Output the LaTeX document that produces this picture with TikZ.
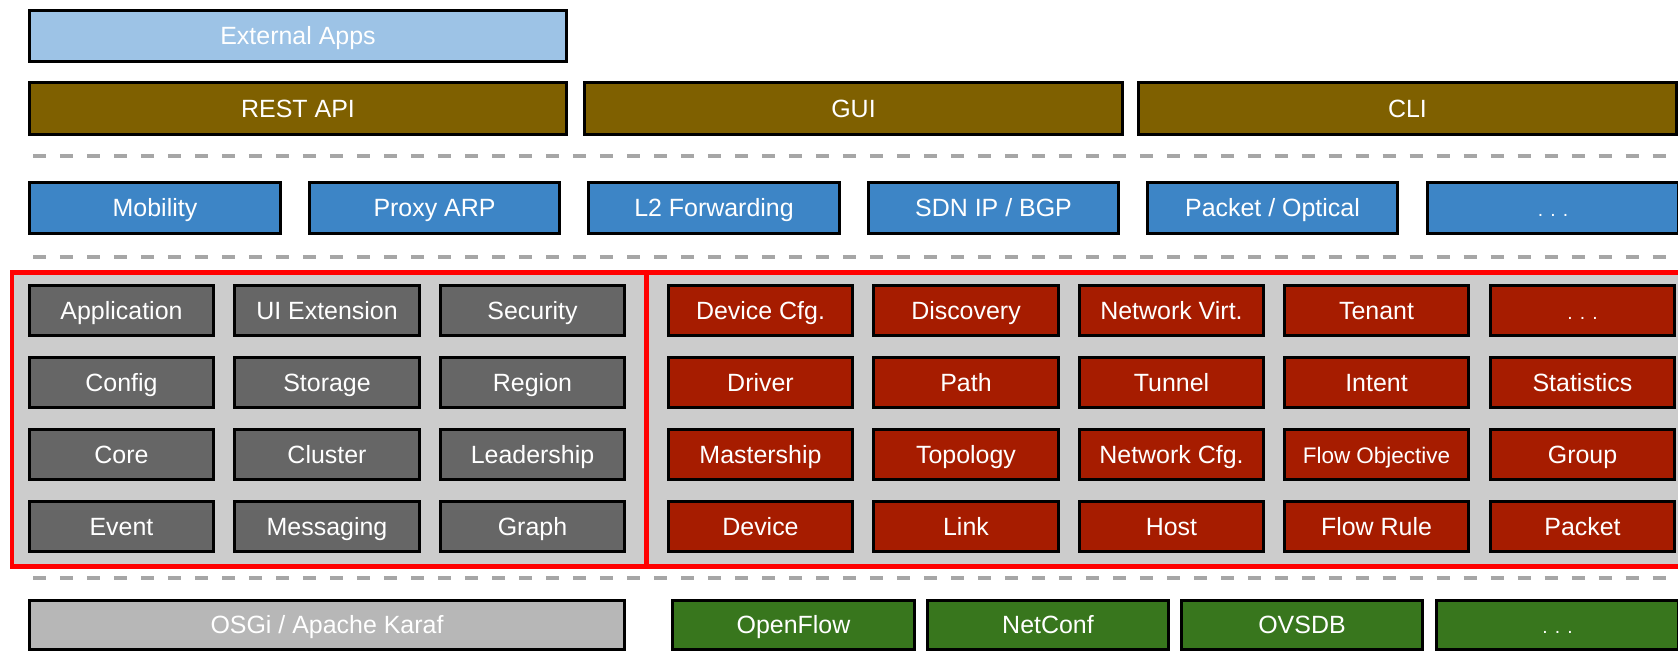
\documentclass[tikz,border=0pt]{standalone}
\usepackage{fontspec}
\setmainfont{Liberation Sans}
\definecolor{extblue}{HTML}{9DC3E6}
\definecolor{apibrown}{HTML}{7F6000}
\definecolor{appblue}{HTML}{3D85C6}
\definecolor{coregrey}{HTML}{666666}
\definecolor{corebg}{HTML}{CCCCCC}
\definecolor{svcred}{HTML}{A61C00}
\definecolor{protogreen}{HTML}{38761D}
\definecolor{osgigrey}{HTML}{B7B7B7}
\definecolor{sepgrey}{HTML}{A6A6A6}
\definecolor{framered}{HTML}{FF0000}

\begin{document}
\begin{tikzpicture}[x=0.02cm, y=-0.02cm,
    every node/.style={draw=black, line width=0.06cm, text=white, inner sep=0pt,
      font=\fontsize{14.2}{17}\selectfont, text height=10.2pt, text depth=0pt},
    extbox/.style={fill=extblue, minimum width=10.76cm, minimum height=1.02cm},
    apibox/.style={fill=apibrown, minimum width=10.76cm, minimum height=1.04cm},
    appbox/.style={fill=appblue, minimum width=5.02cm, minimum height=1.02cm},
    corebox/.style={fill=coregrey, minimum width=3.7cm, minimum height=1.0cm},
    svcbox/.style={fill=svcred, minimum width=3.7cm, minimum height=1.0cm},
    protobox/.style={fill=protogreen, minimum width=4.84cm, minimum height=0.98cm},
    osgibox/.style={fill=osgigrey, minimum width=11.9cm, minimum height=0.98cm},
    dots/.style={font=\fontsize{11}{13}\selectfont},
    sepline/.style={draw=sepgrey, line width=0.08cm, dash pattern=on 0.26cm off 0.28cm},
    frame/.style={draw=framered, fill=corebg, line width=0.1cm}]

  \useasboundingbox (0,0) rectangle (1678,653);
  \clip (0,0) rectangle (1678,653);

  % core frame
  \draw[frame] (12,272) rectangle (646,566);
  \draw[frame] (646,272) rectangle (1700,566);

  % separators
  \draw[sepline] (33,156) -- (1678,156);
  \draw[sepline] (33,257) -- (1678,257);
  \draw[sepline] (33,578) -- (1678,578);

  % northbound
  \node[extbox] (ext) at (298,36) {External Apps};
  \node[apibox] (rest) at (298,108.5) {REST API};
  \node[apibox] (gui) at (853.5,108.5) {GUI};
  \node[apibox] (cli) at (1407.5,108.5) {CLI};

  % applications
  \node[appbox] (mobility) at (155,208) {Mobility};
  \node[appbox] (proxyarp) at (434.5,208) {Proxy ARP};
  \node[appbox] (fwd) at (714,208) {L2 Forwarding};
  \node[appbox] (sdnip) at (993.5,208) {SDN IP / BGP};
  \node[appbox] (optical) at (1272.5,208) {Packet / Optical};
  \node[appbox, dots] (moreapps) at (1553,208) {. . .};

  % core subsystems
  \node[corebox] (application) at (121.5,310.5) {Application};
  \node[corebox] (uiext) at (327,310.5) {UI Extension};
  \node[corebox] (security) at (532.5,310.5) {Security};
  \node[corebox] (config) at (121.5,382.5) {Config};
  \node[corebox] (storage) at (327,382.5) {Storage};
  \node[corebox] (region) at (532.5,382.5) {Region};
  \node[corebox] (core) at (121.5,454.5) {Core};
  \node[corebox] (cluster) at (327,454.5) {Cluster};
  \node[corebox] (leadership) at (532.5,454.5) {Leadership};
  \node[corebox] (event) at (121.5,526.5) {Event};
  \node[corebox] (messaging) at (327,526.5) {Messaging};
  \node[corebox] (graph) at (532.5,526.5) {Graph};

  % network services
  \node[svcbox] (devcfg) at (760.5,310.5) {Device Cfg.};
  \node[svcbox] (discovery) at (966,310.5) {Discovery};
  \node[svcbox] (netvirt) at (1171.5,310.5) {Network Virt.};
  \node[svcbox] (tenant) at (1376.5,310.5) {Tenant};
  \node[svcbox, dots] (moresvc) at (1582.5,310.5) {. . .};
  \node[svcbox] (driver) at (760.5,382.5) {Driver};
  \node[svcbox] (path) at (966,382.5) {Path};
  \node[svcbox] (tunnel) at (1171.5,382.5) {Tunnel};
  \node[svcbox] (intent) at (1376.5,382.5) {Intent};
  \node[svcbox] (statistics) at (1582.5,382.5) {Statistics};
  \node[svcbox] (mastership) at (760.5,454.5) {Mastership};
  \node[svcbox] (topology) at (966,454.5) {Topology};
  \node[svcbox] (netcfg) at (1171.5,454.5) {Network Cfg.};
  \node[svcbox, font=\fontsize{12.8}{15}\selectfont] (flowobj) at (1376.5,454.5) {Flow Objective};
  \node[svcbox] (group) at (1582.5,454.5) {Group};
  \node[svcbox] (device) at (760.5,526.5) {Device};
  \node[svcbox] (link) at (966,526.5) {Link};
  \node[svcbox] (host) at (1171.5,526.5) {Host};
  \node[svcbox] (flowrule) at (1376.5,526.5) {Flow Rule};
  \node[svcbox] (packet) at (1582.5,526.5) {Packet};

  % southbound
  \node[osgibox] (osgi) at (327,625) {OSGi / Apache Karaf};
  \node[protobox] (openflow) at (793.5,625) {OpenFlow};
  \node[protobox] (netconf) at (1048,625) {NetConf};
  \node[protobox] (ovsdb) at (1302,625) {OVSDB};
  \node[protobox, dots] (moreproto) at (1557.5,625) {. . .};
\end{tikzpicture}
\end{document}
